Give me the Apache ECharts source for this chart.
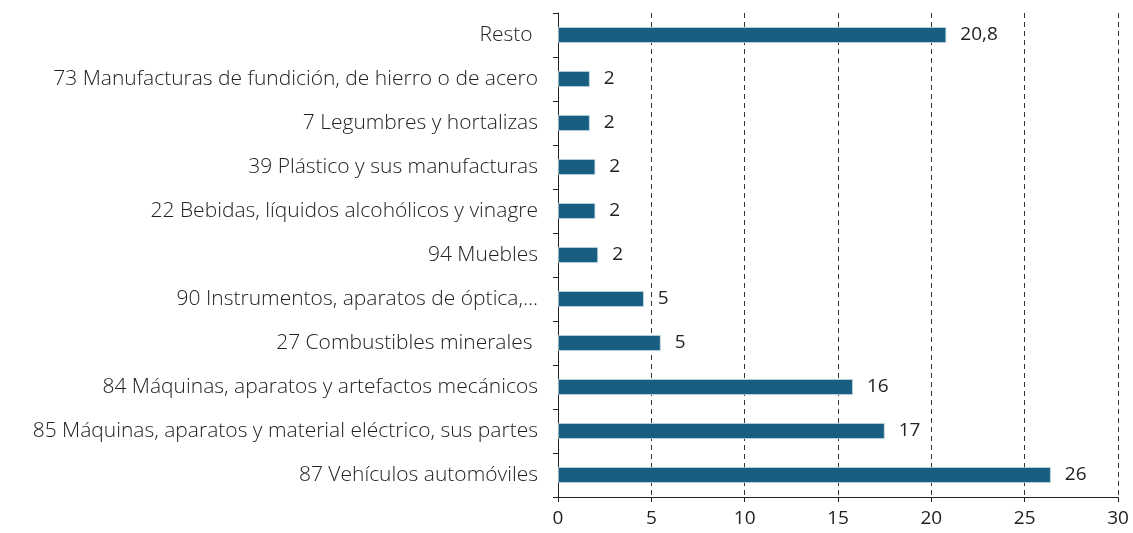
<!DOCTYPE html>
<html>
<head>
<meta charset="utf-8">
<script src="https://cdn.jsdelivr.net/npm/echarts@6/dist/echarts.min.js"></script>
<style>
  html, body { margin: 0; padding: 0; background: #fff; }
  #chart { width: 1133px; height: 533px; }
</style>
</head>
<body>
<div id="chart"></div>
<script>
// categories, top to bottom
var categories = [
  'Resto ',
  '73 Manufacturas de fundición, de hierro o de acero',
  '7 Legumbres y hortalizas',
  '39 Plástico y sus manufacturas',
  '22 Bebidas, líquidos alcohólicos y vinagre',
  '94 Muebles',
  '90 Instrumentos, aparatos de óptica,...',
  '27 Combustibles minerales ',
  '84 Máquinas, aparatos y artefactos mecánicos',
  '85 Máquinas, aparatos y material eléctrico, sus partes',
  '87 Vehículos automóviles'
];
// bar lengths
var values = [20.8, 1.7, 1.7, 2.0, 2.0, 2.15, 4.6, 5.5, 15.8, 17.5, 26.4];
// labels as printed next to bars
var valueLabels = ['20,8', '2', '2', '2', '2', '2', '5', '5', '16', '17', '26'];
var xTicks = [0, 5, 10, 15, 20, 25, 30];

var myChart = echarts.init(document.getElementById('chart'));

var option = {
  animation: false,
  grid: { left: 558, right: 15, top: 13, bottom: 36, containLabel: false },
  xAxis: {
    type: 'value',
    min: xTicks[0],
    max: xTicks[xTicks.length - 1],
    interval: 5,
    axisLine: { show: true, lineStyle: { color: '#222', width: 1 } },
    axisTick: { show: true, length: 5, lineStyle: { color: '#222' } },
    axisLabel: {
      color: '#222', fontFamily: 'Open Sans', fontSize: 19, margin: 12
    },
    splitLine: {
      show: true,
      lineStyle: { color: '#333', type: [5, 4], width: 1 }
    }
  },
  yAxis: {
    type: 'category',
    inverse: true,
    data: categories,
    axisLine: { show: true, lineStyle: { color: '#222', width: 1 } },
    axisTick: { show: true, length: 5, lineStyle: { color: '#222' } },
    axisLabel: {
      color: '#222', fontFamily: 'Open Sans', fontWeight: 300, fontSize: 21, margin: 20
    },
    splitLine: { show: false }
  },
  series: [
    {
      type: 'bar',
      data: values,
      barWidth: 16,
      itemStyle: { color: '#175e81', borderColor: '#c4dae5', borderWidth: 0.8 },
      label: {
        show: true,
        position: 'right',
        distance: 14,
        color: '#222',
        fontFamily: 'Open Sans',
        fontSize: 19,
        formatter: function (p) { return valueLabels[p.dataIndex]; }
      }
    }
  ]
};

myChart.setOption(option);
</script>
</body>
</html>
